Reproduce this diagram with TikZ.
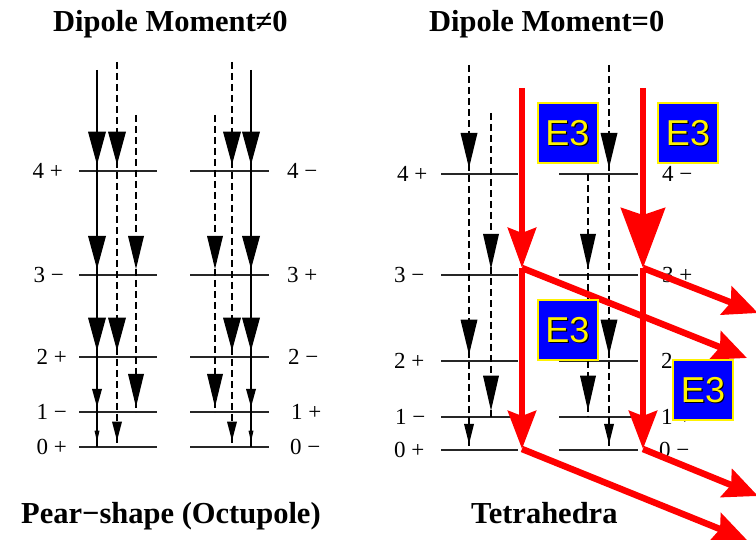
\documentclass[tikz,border=0pt]{standalone}
\usepackage{fontspec}
\setmainfont{Liberation Serif}
\newfontfamily\boxfont{Liberation Sans}
\usetikzlibrary{arrows.meta}
\tikzset{
  levelline/.style={line width=1.9pt, draw=black!85},
  solidcol/.style={line width=1.8pt, draw=black},
  dashcol/.style={line width=1.6pt, draw=black, dash pattern=on 7pt off 4pt},
  lvllabel/.style={inner sep=0pt, font=\fontsize{23}{25}\selectfont},
  titletext/.style={inner sep=0pt, anchor=base, font=\fontsize{30.5}{34}\selectfont\bfseries},
  redline/.style={line width=6.5pt, draw=red},
  redtip/.style={-{Stealth[length=#1, width=28pt, inset=5pt]}},
  e3box/.style={fill=blue, draw=yellow, line width=2pt, minimum width=60pt, minimum height=60pt, inner sep=0pt},
  e3text/.style={font=\fontsize{36}{36}\boxfont\selectfont, inner sep=0pt}
}
% arrowhead: x, tip y, width, length
\newcommand\ahd[4]{\fill[black] ({#1-#3/2},{#2-#4}) -- ({#1+#3/2},{#2-#4}) -- (#1,#2) -- cycle;}
\newcommand\etbox[3]{%
  \node[e3box] (#1) at (#2,#3) {};
  \node[e3text, text=black] (#1s) at (#2+1.2,#3+1.2) {E3};
  \node[e3text, text=yellow] (#1t) at (#2,#3) {E3};}
\begin{document}
\begin{tikzpicture}[x=1pt,y=-1pt]
\useasboundingbox (0,0) rectangle (756,540);
\clip (0,0) rectangle (756,540);

% ---------- titles ----------
\node[titletext, anchor=base west] (t1) at (53,32) {Dipole Moment≠0};
\node[titletext, anchor=base west] (t2) at (429,32) {Dipole Moment=0};
\node[titletext, anchor=base west] (b1) at (21,523) {Pear−shape (Octupole)};
\node[titletext, anchor=base west] (b2) at (471,523) {Tetrahedra};

% ================= LEFT PANEL =================
\def\Ya{170.7}\def\Yb{275}\def\Yc{356.7}\def\Yd{412}\def\Ye{446.7}
\foreach \y in {\Ya,\Yb,\Yc,\Yd,\Ye}{
  \draw[levelline] (79,\y) -- (157,\y);
  \draw[levelline] (190,\y) -- (269,\y);
}
\node[lvllabel, anchor=east] (l4) at (63,\Ya) {4 +};
\node[lvllabel, anchor=east] (l3) at (64,\Yb) {3 −};
\node[lvllabel, anchor=east] (l2) at (67,\Yc) {2 +};
\node[lvllabel, anchor=east] (l1) at (67,\Yd) {1 −};
\node[lvllabel, anchor=east] (l0) at (67,\Ye) {0 +};
\node[lvllabel, anchor=west] (r4) at (287,\Ya) {4 −};
\node[lvllabel, anchor=west] (r3) at (287,\Yb) {3 +};
\node[lvllabel, anchor=west] (r2) at (288,\Yc) {2 −};
\node[lvllabel, anchor=west] (r1) at (291,\Yd) {1 +};
\node[lvllabel, anchor=west] (r0) at (290,\Ye) {0 −};

% columns, left group
\draw[solidcol] (97,70) -- (97,\Ye);
\draw[dashcol] (117,62) -- (117,\Ye);
\draw[dashcol] (136,115) -- (136,\Yd);
\ahd{97}{\Ya-6}{18}{33}\ahd{97}{\Yb-6}{18}{33}\ahd{97}{\Yc-6}{18}{33}
\ahd{97}{\Yd-5}{10}{18}\ahd{97}{\Ye-5}{5}{11}
\ahd{117}{\Ya-6}{18}{33}\ahd{117}{\Yc-6}{18}{33}\ahd{117}{\Ye-6}{10}{19}
\ahd{136}{\Yb-6}{16}{33}\ahd{136}{\Yd-5}{16}{33}
% columns, right group
\draw[solidcol] (251,70) -- (251,\Ye);
\draw[dashcol] (232,62) -- (232,\Ye);
\draw[dashcol] (215,115) -- (215,\Yd);
\ahd{251}{\Ya-6}{18}{33}\ahd{251}{\Yb-6}{18}{33}\ahd{251}{\Yc-6}{18}{33}
\ahd{251}{\Yd-5}{10}{18}\ahd{251}{\Ye-5}{5}{11}
\ahd{232}{\Ya-6}{18}{33}\ahd{232}{\Yc-6}{18}{33}\ahd{232}{\Ye-6}{10}{19}
\ahd{215}{\Yb-6}{16}{33}\ahd{215}{\Yd-5}{16}{33}

% ================= RIGHT PANEL =================
\def\Za{174}\def\Zb{275}\def\Zc{360.7}\def\Zd{416.7}\def\Ze{450}
\foreach \y in {\Za,\Zb,\Zc,\Zd,\Ze}{
  \draw[levelline] (441,\y) -- (518,\y);
  \draw[levelline] (559,\y) -- (638,\y);
}
\node[lvllabel, anchor=west] (m4) at (397,\Za) {4 +};
\node[lvllabel, anchor=west] (m3) at (394,\Zb) {3 −};
\node[lvllabel, anchor=west] (m2) at (394,\Zc) {2 +};
\node[lvllabel, anchor=west] (m1) at (395,\Zd) {1 −};
\node[lvllabel, anchor=west] (m0) at (394,\Ze) {0 +};
\node[lvllabel, anchor=west] (n4) at (662,\Za) {4 −};
\node[lvllabel, anchor=west] (n3) at (662,\Zb) {3 +};
\node[lvllabel, anchor=west] (n2) at (661,\Zc) {2 −};
\node[lvllabel, anchor=west] (n1) at (661,\Zd) {1 +};
\node[lvllabel, anchor=west] (n0) at (659,\Ze) {0 −};

\draw[dashcol] (469,65) -- (469,\Ze);
\draw[dashcol] (491,113) -- (491,\Zd);
\draw[dashcol] (588,\Za) -- (588,\Zd);
\draw[dashcol] (609,65) -- (609,\Ze);
\ahd{469}{\Za-6}{17}{35}\ahd{469}{\Zc-6}{17}{35}\ahd{469}{\Ze-6}{10}{20}
\ahd{491}{\Zb-6}{16}{35}\ahd{491}{\Zd-6}{16}{35}
\ahd{588}{\Zb-6}{16}{35}\ahd{588}{\Zd-6}{16}{35}
\ahd{609}{\Za-6}{17}{35}\ahd{609}{\Zc-6}{17}{35}\ahd{609}{\Ze-6}{10}{20}

% red E3 transitions
\coordinate (ra0) at (522,88);
\coordinate (ra3) at (522,268);
\coordinate (ra5) at (522,449);
\coordinate (rb0) at (643,88);
\coordinate (rb3) at (643,268);
\coordinate (rb5) at (643,449);
\coordinate (oa3) at (747,358);
\coordinate (ob3) at (758,313);
\coordinate (oa5) at (747,540);
\coordinate (ob5) at (758,496);
\draw[redline, redtip=40pt] (ra0) -- (ra3);
\draw[redline, redtip=38pt] (ra3) -- (ra5);
\draw[redline, -{Stealth[length=60pt, width=44pt, inset=7pt]}] (rb0) -- (rb3);
\draw[redline, redtip=38pt] (rb3) -- (rb5);
\draw[redline, -{Stealth[length=34pt, width=30pt, inset=5pt]}] (ra3) -- (oa3);
\draw[redline, -{Stealth[length=34pt, width=30pt, inset=5pt]}] (rb3) -- (ob3);
\draw[redline, -{Stealth[length=34pt, width=30pt, inset=5pt]}] (ra5) -- (oa5);
\draw[redline, -{Stealth[length=34pt, width=30pt, inset=5pt]}] (rb5) -- (ob5);

% E3 boxes
\etbox{e1}{567.5}{133}
\etbox{e2}{688}{133}
\etbox{e3}{567.5}{330}
\etbox{e4}{703}{390}
\end{tikzpicture}
\end{document}
